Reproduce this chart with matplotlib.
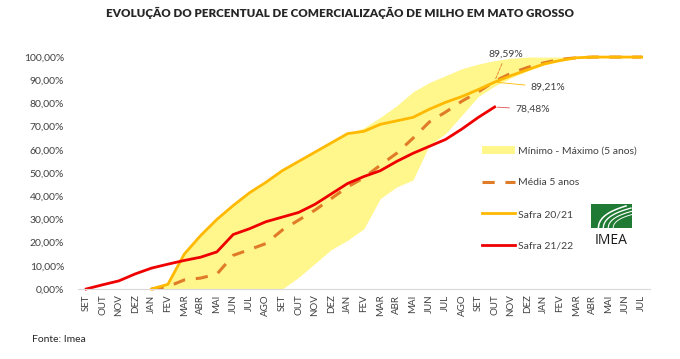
import numpy as np
import matplotlib
matplotlib.use("Agg")
import matplotlib.pyplot as plt
from matplotlib.ticker import FuncFormatter

plt.rcParams['font.family'] = ['Lato', 'DejaVu Sans']

meses = ['SET', 'OUT', 'NOV', 'DEZ', 'JAN', 'FEV', 'MAR', 'ABR', 'MAI', 'JUN', 'JUL', 'AGO',
         'SET', 'OUT', 'NOV', 'DEZ', 'JAN', 'FEV', 'MAR', 'ABR', 'MAI', 'JUN', 'JUL', 'AGO',
         'SET', 'OUT', 'NOV', 'DEZ', 'JAN', 'FEV', 'MAR', 'ABR', 'MAI', 'JUN', 'JUL']
nan = np.nan

# valores em %
maximo = [nan, nan, nan, nan, 0, 2, 15, 23, 30, 36, 41.5, 46, 51, 55, 59, 63, 67, 69.5, 74, 79,
          85, 89, 92, 95, 97, 98.5, 99.5, 100, 100, 100, 100, 100, 100, 100, 100]
minimo = [nan, nan, nan, nan, 0, 0, 0, 0, 0, 0, 0, 0, 0, 5, 11, 17, 21, 26, 39, 44,
          47, 62, 67, 75, 83, 87.5, 91, 94, 96.5, 98.5, 99.5, 100, 100, 100, 100]
media = [nan, nan, nan, nan, 0, 1, 3.9, 4.7, 6.4, 14.5, 17, 19.6, 25.4, 29.7, 34, 39, 44, 48, 53.4, 58.5,
         65, 72, 76.3, 81, 85, 89.59, 93, 95.5, 97.5, 99, 99.7, 100, 100, 100, 100]
safra_2021 = [nan, nan, nan, nan, 0, 2, 15, 23, 30, 36, 41.5, 46, 51, 55, 59, 63, 67, 68, 71, 72.5,
              74, 77.5, 80.5, 83, 86, 89.21, 92, 94.5, 97, 98.5, 99.7, 100, 100, 100, 100]
safra_2122 = [0, 1.8, 3.5, 6.5, 9, 10.7, 12.3, 13.7, 16, 23.5, 26, 29, 31, 33, 36.5, 41, 45.5, 48.5,
              51, 55, 58.5, 61.5, 64.5, 69, 74, 78.48]

x = np.arange(len(meses))
mx = np.array(maximo) / 100
mn = np.array(minimo) / 100

fig = plt.figure(figsize=(6.8, 3.59), dpi=100)
ax = fig.add_axes([0.1147, 0.195, 0.841, 0.646])

ax.fill_between(x, mn, mx, where=~np.isnan(mx), color='#FFF68C', lw=0,
                label='Mínimo - Máximo (5 anos)')
ax.plot(x, np.array(media) / 100, color='#E07B28', lw=2.2, dashes=(4, 3.5),
        label='Média 5 anos', clip_on=False)
ax.plot(x, np.array(safra_2021) / 100, color='#FFB900', lw=2, label='Safra 20/21', clip_on=False)
ax.plot(x[:len(safra_2122)], np.array(safra_2122) / 100, color='#EE0000', lw=2,
        label='Safra 21/22', clip_on=False)

ax.set_xlim(-0.5, len(meses) - 0.5)
ax.set_ylim(0, 1.0)
ax.set_xticks(x)
ax.set_xticklabels(meses, rotation=90, fontsize=7, color='#404040')
ax.set_yticks(np.arange(0, 1.01, 0.1))
ax.yaxis.set_major_formatter(FuncFormatter(lambda v, p: f'{v * 100:.2f}%'.replace('.', ',')))
ax.tick_params(axis='y', labelsize=7.5, length=0, pad=10, labelcolor='#404040')
ax.tick_params(axis='x', length=0, pad=4)
for s in ['top', 'right', 'left']:
    ax.spines[s].set_visible(False)
ax.spines['bottom'].set_color('#D9D9D9')

# rotulos finais
i = len(safra_2122) - 1
ax.annotate('89,59%', xy=(x[i], media[i] / 100), xytext=(x[i] + 0.7, 0.995),
            fontsize=7.5, color='#404040', ha='center', va='bottom',
            arrowprops=dict(arrowstyle='-', color='#E07B28', lw=0.6, ls='--'))
ax.annotate('89,21%', xy=(x[i], safra_2021[i] / 100), xytext=(x[i] + 2.2, 0.87),
            fontsize=7.5, color='#404040', ha='left', va='center',
            arrowprops=dict(arrowstyle='-', color='#FFB900', lw=0.6))
ax.annotate('78,48%', xy=(x[i], safra_2122[i] / 100), xytext=(x[i] + 1.25, 0.775),
            fontsize=7.5, color='#404040', ha='left', va='center',
            arrowprops=dict(arrowstyle='-', color='#E05050', lw=0.6))

ax.legend(loc='upper left', bbox_to_anchor=(0.69, 0.655), frameon=False, fontsize=7.5,
          labelspacing=2.15, handlelength=3.2, handletextpad=0.3, labelcolor='#404040')

fig.text(0.5, 0.965, 'EVOLUÇÃO DO PERCENTUAL DE COMERCIALIZAÇÃO DE MILHO EM MATO GROSSO',
         ha='center', va='center', fontsize=8.4, fontweight='heavy', color='#262626')
fig.text(0.047, 0.055, 'Fonte: Imea', fontsize=7.5, color='#262626', va='center')

# logo IMEA
lg = fig.add_axes([591 / 680, 1 - 228 / 359, 41 / 680, 24 / 359])
lg.set_xlim(0, 1)
lg.set_ylim(0, 1)
lg.axis('off')
lg.add_patch(plt.Rectangle((0, 0), 1, 1, color='#1F7A33'))
t = np.linspace(0, 1, 30)
for k in range(4):
    off = 0.12 * k
    lg.plot(0.18 + off + 0.75 * t ** 2 * 0.5 + 0.3 * t, 0.02 + 0.9 * t ** 0.6 * (1 - 0.1 * k),
            color='white', lw=1.1 - 0.15 * k)
fig.text(611 / 680, 1 - 241 / 359, 'IMEA', ha='center', va='center', fontsize=10,
         color='#1a1a1a', family=['Open Sans', 'DejaVu Sans'])

fig.savefig('out.png', dpi=100)
